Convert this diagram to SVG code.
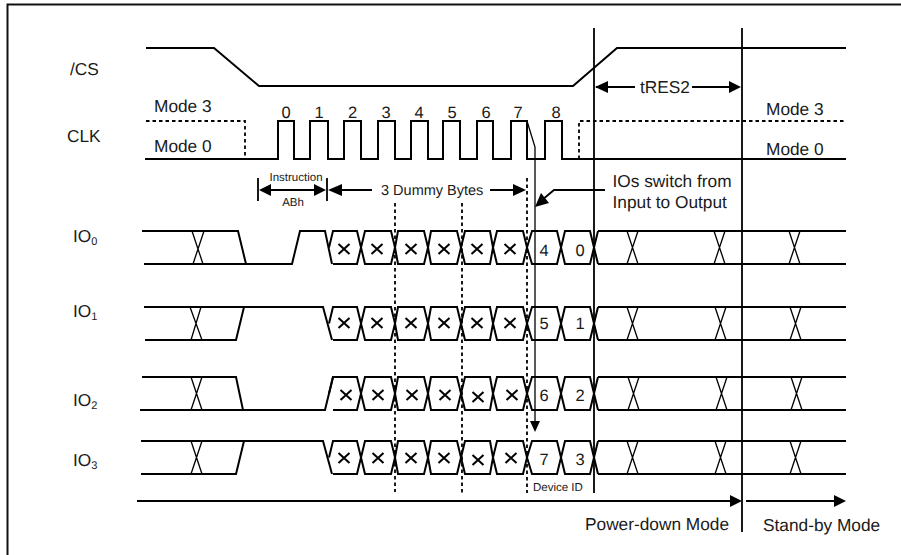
<svg xmlns="http://www.w3.org/2000/svg" xmlns:xlink="http://www.w3.org/1999/xlink" width="901" height="555" viewBox="0 0 901 555">
<style>
text{font-family:"Liberation Sans",Arial,sans-serif;font-size:17.3px;fill:#1a1a1a;text-rendering:geometricPrecision}
.sm{font-size:11.5px}
.mid{font-size:14.5px}
.d{font-size:16.5px;text-anchor:middle}
.c{text-anchor:middle}
.s{fill:none;stroke:#000;stroke-width:2}
.t{fill:none;stroke:#000;stroke-width:1.3}
.v{fill:none;stroke:#000;stroke-width:1.8}
.dash{fill:none;stroke:#000;stroke-width:1.8;stroke-dasharray:3.5 3}
.h{fill:#000}
</style>
<defs>
<g id="x"><path d="M-5.500-5 5.500 5M-5.500 5 5.500-5" fill="none" stroke="#000" stroke-width="2"/></g>
<path id="hexes" class="s" d="M329 17.500 333 1H357L361 17.500 365 1H391L395 17.500 398 1H424L428 17.500 431 1H457L461 17.500 465 1H490L493 17.500 497 1H523L527 17.500 532 1H557L561 17.500 565 1H590L594 17.500 598 1M333 34H357L361 17.500 365 34H391L395 17.500 398 34H424L428 17.500 431 34H457L461 17.500 465 34H490L493 17.500 497 34H523L527 17.500 532 34H557L561 17.500 565 34H590L594 17.500 598 34"/>
</defs>
<path id="frame" d="M7.500 555V4.500H901" fill="none" stroke="#111" stroke-width="2"/>

<g id="cs">
<text x="70" y="75">/CS</text>
<path class="s" d="M146 48H214L259 86H573L617 48H846"/>
</g>

<g id="clk">
<text x="67" y="142">CLK</text>
<text x="154" y="112">Mode 3</text>
<text x="154" y="152">Mode 0</text>
<text x="766" y="115">Mode 3</text>
<text x="766" y="155">Mode 0</text>
<path class="s" d="M145 159H278V121H294V159H310V121H328V159H344V121H361V159H378V121H395V159H411V121H428V159H443V121H460V159H477V121H493V159H511V121H527V159H545V121H562V159H846"/>
<path class="dash" d="M146 121H245V159M579 159V121H846"/>
<text class="d" x="286" y="118">0</text>
<text class="d" x="319" y="118">1</text>
<text class="d" x="352.500" y="118">2</text>
<text class="d" x="386" y="118">3</text>
<text class="d" x="419" y="118">4</text>
<text class="d" x="452" y="118">5</text>
<text class="d" x="486" y="118">6</text>
<text class="d" x="518" y="118">7</text>
<text class="d" x="556" y="118">8</text>
</g>

<g id="io0">
<text x="73" y="242">IO<tspan font-size="11" dy="3">0</tspan></text>
<path class="s" d="M142 231H238L246 264M144 264H292L300 231H325L332 264"/>
<path class="t" d="M192 231 203 264M204 231 193 264"/>
<use xlink:href="#hexes" href="#hexes" y="230"/>
<path class="s" d="M598 231H846M598 264H846"/>
<path class="t" d="M627 231 638 264M638 231 627 264M714 231 725 264M725 231 714 264M789 231 800 264M800 231 789 264"/>
<use href="#x" x="344" y="249"/><use href="#x" x="377" y="249"/><use href="#x" x="411" y="249"/><use href="#x" x="444" y="249"/><use href="#x" x="477" y="249"/><use href="#x" x="510" y="249"/>
<text class="d" x="544" y="256">4</text>
<text class="d" x="580" y="256">0</text>
</g>

<g id="io1">
<text x="73" y="317">IO<tspan font-size="11" dy="3">1</tspan></text>
<path class="s" d="M144 307H323L332 340M145 340H236L244 307"/>
<path class="t" d="M190 307 202 340M201 307 191 340"/>
<use href="#hexes" y="306"/>
<path class="s" d="M598 307H846M598 340H846"/>
<path class="t" d="M627 307 638 340M638 307 627 340M715 307 726 340M726 307 715 340M790 307 801 340M801 307 790 340"/>
<use href="#x" x="344" y="323"/><use href="#x" x="377" y="323"/><use href="#x" x="411" y="323"/><use href="#x" x="444" y="323"/><use href="#x" x="477" y="323"/><use href="#x" x="510" y="323"/>
<text class="d" x="544" y="329">5</text>
<text class="d" x="580" y="329">1</text>
</g>

<g id="io2">
<text x="73" y="406">IO<tspan font-size="11" dy="3">2</tspan></text>
<path class="s" d="M142 377H236L243 410M140 410H325L333 377"/>
<path class="t" d="M191 377 202 410M202 377 191 410"/>
<use href="#hexes" y="376"/>
<path class="s" d="M598 377H846M598 410H846"/>
<path class="t" d="M628 377 639 410M639 377 628 410M716 377 727 410M727 377 716 410M791 377 802 410M802 377 791 410"/>
<use href="#x" x="346" y="395"/><use href="#x" x="378" y="395"/><use href="#x" x="412" y="395"/><use href="#x" x="445" y="395"/><use href="#x" x="478" y="397"/><use href="#x" x="512" y="395"/>
<text class="d" x="544" y="401">6</text>
<text class="d" x="580" y="401">2</text>
</g>

<g id="io3">
<text x="73" y="466">IO<tspan font-size="11" dy="3">3</tspan></text>
<path class="s" d="M141 441H323L332 474M141 474H236L244 441"/>
<path class="t" d="M191 441 202 474M202 441 191 474"/>
<use href="#hexes" y="440"/>
<path class="s" d="M598 441H846M598 474H846"/>
<path class="t" d="M627 441 638 474M638 441 627 474M715 441 726 474M726 441 715 474M790 441 801 474M801 441 790 474"/>
<use href="#x" x="344" y="458"/><use href="#x" x="378" y="458"/><use href="#x" x="411" y="458"/><use href="#x" x="444" y="458"/><use href="#x" x="478" y="460"/><use href="#x" x="511" y="458"/>
<text class="d" x="544" y="465">7</text>
<text class="d" x="580" y="465">3</text>
</g>

<g id="labels">
<text class="sm c" x="296" y="181">Instruction</text>
<text class="sm c" x="293" y="206">ABh</text>
<text class="mid" x="381" y="195">3 Dummy Bytes</text>
<text x="640" y="93">tRES2</text>
<text x="612.500" y="187">IOs switch from</text>
<text x="612.500" y="208">Input to Output</text>
<text class="sm" x="533" y="491">Device ID</text>
<text x="585" y="530">Power-down Mode</text>
<text x="763" y="531">Stand-by Mode</text>
</g>

<g id="connectors">
<path class="v" d="M594 28V493M742 28V532"/>
<path class="dash" d="M527 178V493M395 203V492M462 203V493"/>
<path class="v" d="M258 178V201M327 178V201"/>
<path class="v" d="M268 190H316M340 190H372M490 190H514"/>
<path class="h" d="M259 190 271 184V196ZM326 190 314 184V196ZM328 190 342 184V196ZM526 190 513 184V196Z"/>
<path class="v" d="M596 87H635M692 87H730"/>
<path class="h" d="M595 87 608 81V93ZM741 87 729 81V93Z"/>
<path class="t" d="M527 121 535 147V422"/>
<path class="h" d="M535 432 530 421H540Z"/>
<path class="v" d="M605 190H554L542 200"/>
<path class="h" d="M535 207 541 193 549 203Z"/>
<path class="v" d="M137 501H731M746 501H835"/>
<path class="h" d="M742 501 730 495V507ZM846 501 834 495V507Z"/>
</g>
</svg>
